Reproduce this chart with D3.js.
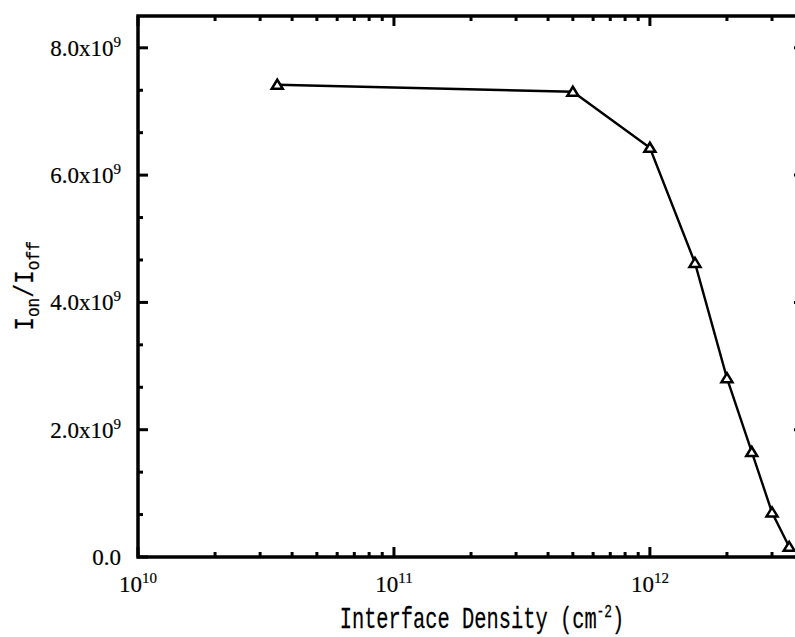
<!DOCTYPE html>
<html>
<head>
<meta charset="utf-8">
<script src="https://cdn.jsdelivr.net/npm/d3@7"></script>
<style>
body { margin: 0; background: #fff; }
text { fill: #000; stroke: #000; }
.mono { font-family: "Liberation Mono", monospace; stroke-width: 0.25; }
.serif { font-family: "Liberation Serif", serif; stroke-width: 0.2; }
</style>
</head>
<body>
<svg id="chart"></svg>
<script>
// interface density (cm^-2) vs Ion/Ioff
var density = [3.5e10, 5e11, 1e12, 1.5e12, 2e12, 2.5e12, 3e12, 3.5e12];
var ratio = [7.42e9, 7.31e9, 6.43e9, 4.62e9, 2.81e9, 1.65e9, 0.70e9, 0.16e9];

var yTicks = [0, 2e9, 4e9, 6e9, 8e9];
var yLabelBase = ["0.0", "2.0x10", "4.0x10", "6.0x10", "8.0x10"];
var yLabelExp = ["", "9", "9", "9", "9"];
var xTicks = [1e10, 1e11, 1e12];
var xLabelExp = ["10", "11", "12"];

var width = 795, height = 637;
var pLeft = 138, pRight = 804, pTop = 16, pBottom = 557;

var svg = d3.select("#chart")
    .attr("width", width)
    .attr("height", height);

var x = d3.scaleLog().domain([1e10, 4e12]).range([pLeft, pRight]);
var y = d3.scaleLinear().domain([0, 8.5e9]).range([pBottom, pTop]);

// ticks, inward on all four sides
var ticks = svg.append("g").attr("stroke", "#000").attr("stroke-width", 3);
x.ticks().forEach(function(v) {
    var major = Math.abs(Math.log10(v) - Math.round(Math.log10(v))) < 1e-9;
    var len = major ? 10 : 5;
    var px = x(v);
    ticks.append("line").attr("x1", px).attr("x2", px).attr("y1", pBottom).attr("y2", pBottom - len);
    ticks.append("line").attr("x1", px).attr("x2", px).attr("y1", pTop).attr("y2", pTop + len);
});
d3.range(0, 8.5e9, 2e9 / 3).forEach(function(v, i) {
    var len = (i % 3 == 0) ? 10 : 5;
    var py = y(v);
    ticks.append("line").attr("x1", pLeft).attr("x2", pLeft + len).attr("y1", py).attr("y2", py);
    ticks.append("line").attr("x1", pRight).attr("x2", pRight - len).attr("y1", py).attr("y2", py);
});

// frame
svg.append("rect")
    .attr("x", pLeft).attr("y", pTop)
    .attr("width", pRight - pLeft).attr("height", pBottom - pTop)
    .attr("fill", "none")
    .attr("stroke", "#000")
    .attr("stroke-width", 3.5);

function label(px, py, sx, anchor, size, cls) {
    return svg.append("g")
        .attr("transform", "translate(" + px + "," + py + ") scale(" + sx + ",1)")
        .append("text")
        .attr("class", cls)
        .attr("text-anchor", anchor)
        .attr("font-size", size);
}

yTicks.forEach(function(v, i) {
    var t = label(121, y(v) + 8, 1, "end", 23, "serif");
    t.append("tspan").text(yLabelBase[i]);
    if (yLabelExp[i]) t.append("tspan").attr("dy", -9).attr("font-size", 15).text(yLabelExp[i]);
});

xTicks.forEach(function(v, i) {
    var t = label(x(v), 592, 1, "middle", 23, "serif");
    t.append("tspan").text("10");
    t.append("tspan").attr("dy", -9).attr("font-size", 15).text(xLabelExp[i]);
});

// axis titles
var xt = label(482, 628, 0.68, "middle", 30, "mono");
xt.append("tspan").text("Interface Density (cm");
xt.append("tspan").attr("dy", -11).attr("font-size", 19).text("-2");
xt.append("tspan").attr("dy", 11).text(")");

var yt = svg.append("g")
    .attr("transform", "translate(33,286) rotate(-90) scale(0.85,1)")
    .append("text")
    .attr("class", "mono")
    .attr("text-anchor", "middle")
    .attr("font-size", 27);
yt.append("tspan").text("I");
yt.append("tspan").attr("dy", 6).attr("font-size", 19).text("on");
yt.append("tspan").attr("dy", -6).text("/I");
yt.append("tspan").attr("dy", 6).attr("font-size", 19).text("off");

// data line + triangles
var pts = density.map(function(d, i) { return [x(d), y(ratio[i])]; });
svg.append("path")
    .attr("d", d3.line()(pts))
    .attr("fill", "none")
    .attr("stroke", "#000")
    .attr("stroke-width", 2.4);

svg.append("g")
    .selectAll("path")
    .data(pts)
    .enter()
    .append("path")
    .attr("transform", d => "translate(" + d[0] + "," + d[1] + ")")
    .attr("d", "M-5.5,4L5.5,4L0,-5Z")
    .attr("fill", "#fff")
    .attr("stroke", "#000")
    .attr("stroke-width", 2.5)
    .attr("stroke-linejoin", "miter");
</script>
</body>
</html>
